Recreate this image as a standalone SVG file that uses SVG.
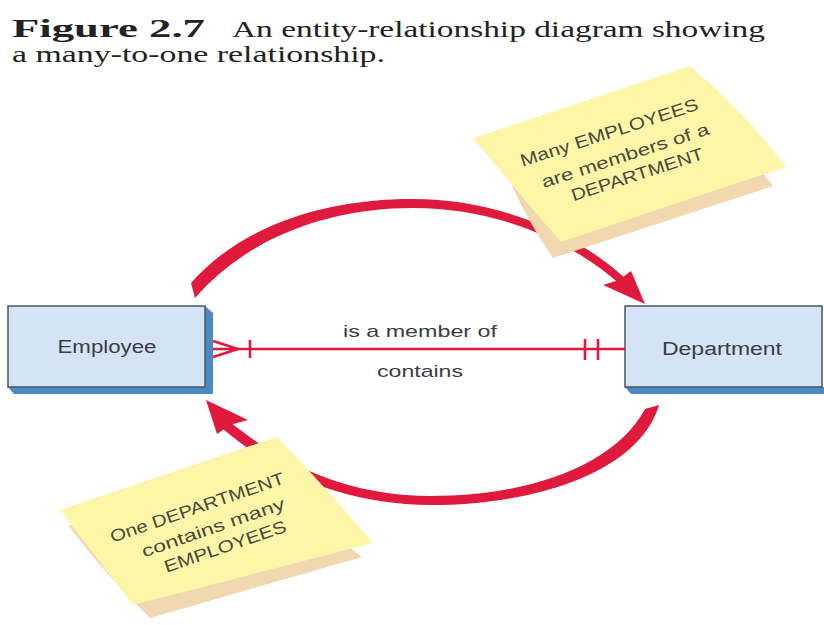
<svg xmlns="http://www.w3.org/2000/svg" width="824" height="625" viewBox="0 0 824 625">
<style>
.title{font-family:"Liberation Serif","Times New Roman",serif;fill:#222}
.ent{font-family:"Liberation Sans",Arial,sans-serif;font-size:18px;fill:#3a3d42;text-anchor:middle}
.rel{font-family:"Liberation Sans",Arial,sans-serif;font-size:17px;fill:#3a3d42;text-anchor:middle}
.note{font-family:"Liberation Sans",Arial,sans-serif;font-size:17px;fill:#4a4a3c;text-anchor:middle}
.box{fill:#d4e3f5;stroke:#555c66;stroke-width:1.6}
.shadow{fill:#4a8ac4}
.red{fill:#e01a3c}
.rline{stroke:#e01a3c;stroke-width:2.6;fill:none}
.yellow{fill:#fdf6a8}
.tan{fill:#f1d8ae}
</style>
<rect width="824" height="625" fill="#ffffff"/>
<g id="title">
<text class="title" x="12" y="37" font-size="26" font-weight="bold" textLength="193" lengthAdjust="spacingAndGlyphs">Figure 2.7</text>
<text class="title" x="232" y="37" font-size="23" textLength="533" lengthAdjust="spacingAndGlyphs">An entity-relationship diagram showing</text>
<text class="title" x="12" y="62" font-size="23" textLength="373" lengthAdjust="spacingAndGlyphs">a many-to-one relationship.</text>
</g>
<g id="connectors">
<path class="red" d="M 191,283 C 245,222 330,199 413,199 C 497,199 575,232 626,279 L 621,285 C 570,240 497,208 413,208 C 332,208 250,235 195,298 Z"/>
<polygon class="red" points="645,304 603,285 619,280 631,271"/>
<path class="red" d="M 659,405 C 640,470 540,505 430,505 C 350,505 278,476 223,429 L 229,421 C 288,470 355,496 430,496 C 530,496 615,465 645,409 Z"/>
<polygon class="red" points="206,400 217,434 230,425 248,420"/>
<line class="rline" x1="213" y1="349" x2="625" y2="349"/>
<polyline class="rline" points="213,341 238,349 213,357"/>
<line class="rline" x1="250" y1="340" x2="250" y2="358"/>
<line class="rline" x1="585" y1="339" x2="585" y2="360"/>
<line class="rline" x1="598" y1="339" x2="598" y2="360"/>
<text class="rel" x="420" y="337" textLength="154" lengthAdjust="spacingAndGlyphs">is a member of</text>
<text class="rel" x="420" y="377" textLength="86" lengthAdjust="spacingAndGlyphs">contains</text>
</g>
<g id="employee">
<polygon class="shadow" points="205,306 213,313 213,394 14,394 8,387 205,387"/>
<rect class="box" x="8" y="306" width="197" height="81"/>
<text class="ent" x="107" y="353" textLength="99" lengthAdjust="spacingAndGlyphs">Employee</text>
</g>
<g id="department">
<polygon class="shadow" points="625,387 631,394 830,394 830,387"/>
<rect class="box" x="625" y="306" width="197" height="81"/>
<text class="ent" x="722" y="355" textLength="120" lengthAdjust="spacingAndGlyphs">Department</text>
</g>
<g id="note-many">
<path class="tan" d="M 512,186 Q 530,225 553,258 L 773,186 L 762,172 Z"/>
<path class="yellow" d="M 473,138 L 690,66 Q 745,112 786,167 L 561,242 Q 520,195 473,138 Z"/>
<text class="note" transform="translate(611,138) rotate(-18)" textLength="186" lengthAdjust="spacingAndGlyphs">Many EMPLOYEES</text>
<text class="note" transform="translate(627,161) rotate(-18)" textLength="175" lengthAdjust="spacingAndGlyphs">are members of a</text>
<text class="note" transform="translate(639,180) rotate(-18)" textLength="138" lengthAdjust="spacingAndGlyphs">DEPARTMENT</text>
</g>
<g id="note-one">
<path class="tan" d="M 68,525 Q 108,578 150,618 L 362,557 L 350,548 Z"/>
<path class="yellow" d="M 60,510 L 277,437 Q 330,492 373,543 L 133,605 Q 98,560 60,510 Z"/>
<text class="note" transform="translate(199,513) rotate(-19)" textLength="183" lengthAdjust="spacingAndGlyphs">One DEPARTMENT</text>
<text class="note" transform="translate(215,533) rotate(-19)" textLength="150" lengthAdjust="spacingAndGlyphs">contains many</text>
<text class="note" transform="translate(227,552) rotate(-19)" textLength="128" lengthAdjust="spacingAndGlyphs">EMPLOYEES</text>
</g>
</svg>
